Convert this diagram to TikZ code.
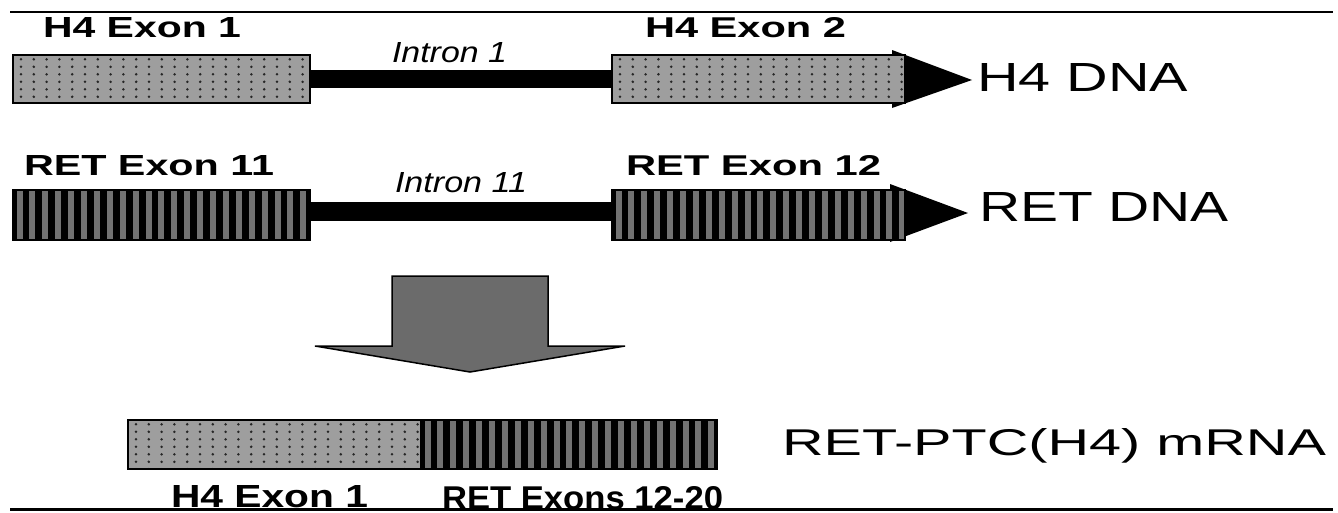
\documentclass[tikz,border=0pt]{standalone}
\usepackage{fontspec}
\setmainfont{Liberation Sans}
\usepackage{graphicx}
\usetikzlibrary{calc}

\definecolor{dotfill}{HTML}{9E9E9E}
\definecolor{dotink}{HTML}{262626}
\definecolor{stripegray}{HTML}{727272}
\definecolor{arrowgray}{HTML}{6B6B6B}

% text squeezed/stretched into a box of given width and height (pt)
\newcommand{\fitlbl}[3]{\resizebox{#1pt}{#2pt}{#3}}

\begin{document}
\begin{tikzpicture}[x=1pt,y=-1pt,
  box/.style={draw=black, line width=1.6pt, inner sep=0pt, outer sep=0pt, anchor=north west},
  dotbox/.style={box, fill=dotfill, path picture={
      \foreach \i in {0,...,24}{
        \foreach \j in {0,...,6}{
          \fill[dotink] ($(path picture bounding box.north west)+(\i*12.8+8,\j*7.5+4.3)$) circle (1.4pt);
        }
      }}},
  stripebox/.style={box, fill=black, path picture={
      \foreach \i in {0,...,24}{
        \fill[stripegray] ($(path picture bounding box.north west)+(\i*12.9+3.5,0)$) rectangle ++(6,60);
      }}},
  intron/.style={line width=18.5pt, black},
  tip/.style={fill=black},
  lbl/.style={inner sep=0pt, outer sep=0pt, anchor=base west},
  rule/.style={black, line cap=butt},
  bigarrow/.style={fill=arrowgray, draw=black, line width=1.5pt, line join=miter}
]
\useasboundingbox (0,0) rectangle (1338,512);

% ---- H4 gene ----
\fill[tip] (892,50) -- (972,80) -- (892,108) -- cycle;
\node[dotbox, minimum width=297pt, minimum height=48pt] (h4ex1) at (13,55) {};
\node[dotbox, minimum width=293pt, minimum height=48pt] (h4ex2) at (612,55) {};
\draw[intron] (h4ex1.east) -- (h4ex2.west);

\node[lbl] (h4ex1lbl) at (43,37) {\fitlbl{198}{20}{\bfseries H4 Exon 1}};
\node[lbl] (h4ex2lbl) at (645,37) {\fitlbl{201}{20}{\bfseries H4 Exon 2}};
\node[lbl] (h4inlbl) at (392,62) {\fitlbl{115}{20}{\itshape Intron 1}};
\node[lbl] (h4dna) at (977,91) {\fitlbl{211}{28}{H4 DNA}};

% ---- RET gene ----
\fill[tip] (890,184) -- (968,213) -- (890,242) -- cycle;
\node[stripebox, minimum width=297pt, minimum height=50pt] (retex11) at (13,190) {};
\node[stripebox, minimum width=293pt, minimum height=50pt] (retex12) at (612,190) {};
\draw[intron] ($(retex11.east)+(0,-3.5)$) -- ($(retex12.west)+(0,-3.5)$);

\node[lbl] (retex11lbl) at (24,175) {\fitlbl{250}{20}{\bfseries RET Exon 11}};
\node[lbl] (retex12lbl) at (626,175) {\fitlbl{255}{20}{\bfseries RET Exon 12}};
\node[lbl] (retinlbl) at (395,192) {\fitlbl{132}{20}{\itshape Intron 11}};
\node[lbl] (retdna) at (979,221) {\fitlbl{250}{29}{RET DNA}};

% ---- rearrangement arrow ----
\draw[bigarrow] (392,276) -- (548,276) -- (548,346) -- (625,346) -- (470,372)
  -- (315,346) -- (392,346) -- cycle;

% ---- fusion transcript ----
\node[dotbox, minimum width=293pt, minimum height=49pt] (fush4) at (128,420) {};
\node[stripebox, minimum width=296pt, minimum height=49pt] (fusret) at (421,420) {};

\node[lbl] (fuslbl) at (782,455) {\fitlbl{544}{27}{RET-PTC(H4) mRNA}};
\node[lbl] (fush4lbl) at (171,507) {\fitlbl{197}{22}{\bfseries H4 Exon 1}};
\node[lbl] (fusretlbl) at (442,509) {\fitlbl{281}{23}{\bfseries RET Exons 12-20}};

% ---- frame rules ----
\draw[rule, line width=1.6pt] (10,12) -- (1333,12);
\draw[rule, line width=3pt] (10,509) -- (1333,509);
\end{tikzpicture}
\end{document}
